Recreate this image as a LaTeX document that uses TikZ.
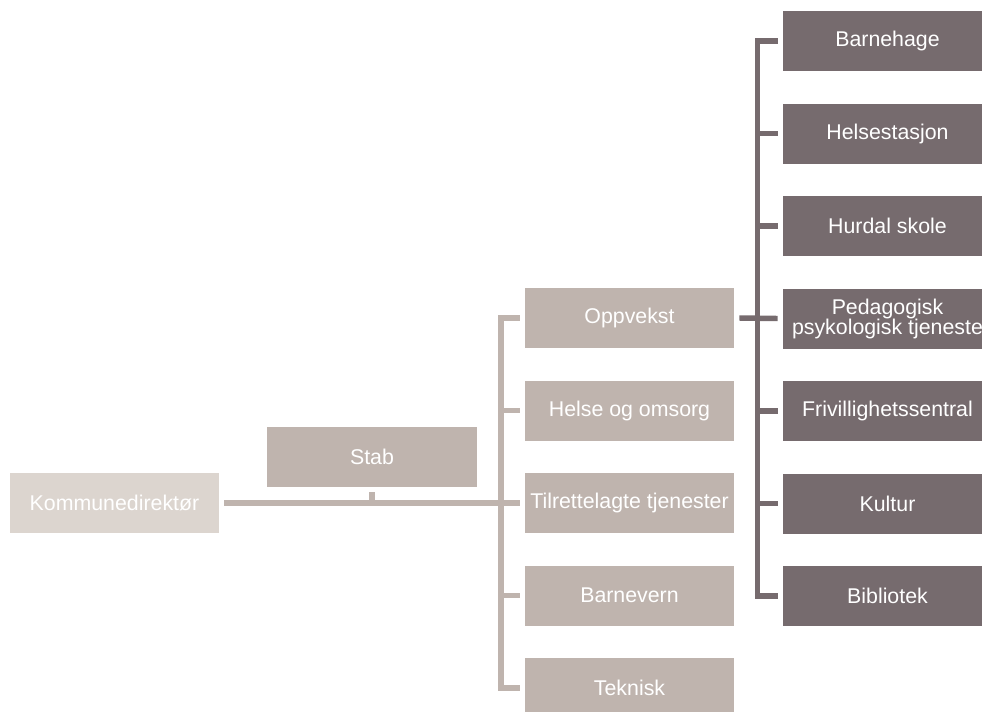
\documentclass[tikz,border=0pt]{standalone}
\usepackage{fontspec}
\setmainfont{Liberation Sans}
\usetikzlibrary{calc}
\definecolor{topBox}{RGB}{220,213,207}
\definecolor{midBox}{RGB}{191,180,174}
\definecolor{subBox}{RGB}{118,107,110}
\tikzset{orgchart/.style={
  unitbox/.style={fill=midBox, draw=none, text=white, minimum width=157pt, minimum height=45pt, inner sep=0pt, align=center, font=\fontsize{16}{15}\selectfont},
  topbox/.style={unitbox, fill=topBox},
  subbox/.style={unitbox, fill=subBox},
  lline/.style={line width=4.1pt, midBox},
  dline/.style={line width=4.1pt, subBox},
}}

\begin{document}
\begin{tikzpicture}[orgchart, x=0.75pt, y=-0.75pt]
\useasboundingbox (0,0) rectangle (982,711);

% =====================================================================
% top level and staff
% =====================================================================
\node[topbox] (kd) at (114.5,503) {Kommunedirektør};
\node[unitbox] (stab) at (372,457) {Stab};

% =====================================================================
% units
% =====================================================================
\node[unitbox] (opp) at (629.5,318) {Oppvekst};
\node[unitbox] (helse) at (629.5,410.5) {Helse og omsorg};
\node[unitbox] (tilr) at (629.5,503) {Tilrettelagte tjenester};
\node[unitbox] (barnev) at (629.5,595.5) {Barnevern};
\node[unitbox] (tek) at (629.5,688) {Teknisk};

% =====================================================================
% services under Oppvekst
% =====================================================================
\node[subbox] (bhg) at (887.5,41) {Barnehage};
\node[subbox] (hels) at (887.5,133.5) {Helsestasjon};
\node[subbox] (hurd) at (887.5,226) {Hurdal skole};
\node[subbox] (ppt) at (887.5,318.5) {Pedagogisk\\psykologisk tjeneste};
\node[subbox] (frivil) at (887.5,411) {Frivillighetssentral};
\node[subbox] (kult) at (887.5,503.5) {Kultur};
\node[subbox] (bib) at (887.5,596) {Bibliotek};

% connectors, light
\draw[lline] ($(kd.east)+(5,0)$) -- ($(tilr.west)+(-5,0)$);
\draw[lline] ($(stab.south)+(0,5)$) -- (stab.south |- kd.east);
\draw[lline] ($(opp.west)+(-5,0)$) -| ($(tek.west)+(-23.5,0)$) -- ($(tek.west)+(-5,0)$);
\foreach \n in {helse,barnev}{ \draw[lline] ($(\n.west)+(-5,0)$) -- ($(\n.west)+(-23.5,0)$); }

% connectors, dark
\draw[dline] ($(opp.east)+(5,0)$) -- ($(ppt.west)+(-5,0)$);
\draw[dline] ($(bhg.west)+(-5,0)$) -| ($(bib.west)+(-25,0)$) -- ($(bib.west)+(-5,0)$);
\foreach \n in {hels,hurd,frivil,kult}{ \draw[dline] ($(\n.west)+(-5,0)$) -- ($(\n.west)+(-25,0)$); }

\end{tikzpicture}
\end{document}
